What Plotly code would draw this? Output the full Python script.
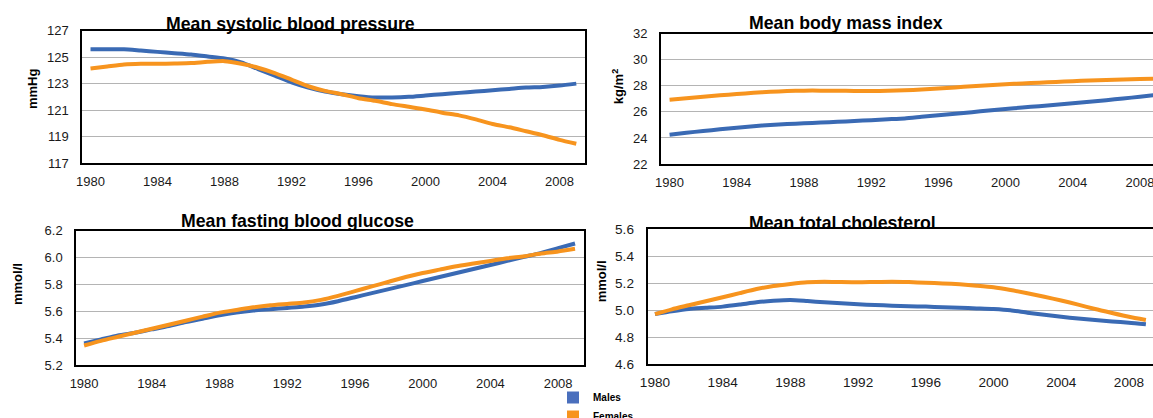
import plotly.graph_objects as go

W, H = 1153, 418

years = list(range(1980, 2010))
tick_years = [1980, 1984, 1988, 1992, 1996, 2000, 2004, 2008]

sbp_males = [125.6, 125.6, 125.6, 125.5, 125.4, 125.3, 125.2, 125.05, 124.9, 124.6,
             124.1, 123.6, 123.1, 122.7, 122.4, 122.2, 122.05, 121.95, 121.95, 122.0,
             122.1, 122.2, 122.3, 122.4, 122.5, 122.6, 122.7, 122.75, 122.85, 123.0]
sbp_females = [124.15, 124.3, 124.45, 124.5, 124.5, 124.52, 124.55, 124.65, 124.7, 124.5,
               124.2, 123.8, 123.3, 122.8, 122.45, 122.2, 121.9, 121.7, 121.45, 121.25,
               121.05, 120.8, 120.6, 120.3, 119.95, 119.7, 119.4, 119.1, 118.75, 118.45]

bmi_males = [24.25, 24.4, 24.53, 24.66, 24.79, 24.9, 25.0, 25.07, 25.12, 25.18,
             25.24, 25.3, 25.36, 25.43, 25.5, 25.62, 25.74, 25.86, 25.98, 26.1,
             26.22, 26.33, 26.44, 26.55, 26.66, 26.78, 26.9, 27.03, 27.16, 27.3]
bmi_females = [26.93, 27.05, 27.16, 27.27, 27.37, 27.46, 27.54, 27.6, 27.63, 27.63,
               27.62, 27.61, 27.6, 27.62, 27.66, 27.72, 27.8, 27.88, 27.97, 28.05,
               28.12, 28.18, 28.24, 28.3, 28.36, 28.41, 28.45, 28.49, 28.52, 28.56]

fpg_males = [5.36, 5.39, 5.42, 5.44, 5.465, 5.49, 5.52, 5.545, 5.57, 5.59,
             5.605, 5.615, 5.625, 5.635, 5.65, 5.675, 5.705, 5.735, 5.765, 5.795,
             5.825, 5.855, 5.885, 5.915, 5.945, 5.975, 6.005, 6.035, 6.07, 6.105]
fpg_females = [5.345, 5.38, 5.41, 5.44, 5.47, 5.5, 5.53, 5.56, 5.59, 5.61,
               5.63, 5.645, 5.655, 5.665, 5.685, 5.715, 5.75, 5.785, 5.82, 5.855,
               5.885, 5.91, 5.935, 5.955, 5.975, 5.995, 6.01, 6.03, 6.045, 6.065]

chol_males = [4.97, 4.99, 5.007, 5.016, 5.025, 5.04, 5.057, 5.068, 5.074, 5.066,
              5.057, 5.05, 5.042, 5.037, 5.032, 5.028, 5.025, 5.021, 5.017, 5.012,
              5.007, 4.998, 4.98, 4.965, 4.95, 4.937, 4.926, 4.915, 4.906, 4.894]
chol_females = [4.97, 5.005, 5.035, 5.065, 5.094, 5.125, 5.155, 5.178, 5.193, 5.205,
                5.21, 5.207, 5.205, 5.208, 5.21, 5.207, 5.202, 5.197, 5.19, 5.18,
                5.168, 5.148, 5.124, 5.098, 5.07, 5.04, 5.007, 4.978, 4.95, 4.926]

titles = ["Mean systolic blood pressure", "Mean body mass index",
          "Mean fasting blood glucose", "Mean total cholesterol"]
units = ["mmHg", "kg/m<sup>2</sup>", "mmol/l", "mmol/l"]
y_ranges = [(117, 127), (22, 32), (5.2, 6.2), (4.6, 5.6)]
y_dticks = [2, 2, 0.2, 0.2]
y_formats = ["d", "d", ".1f", ".1f"]
series = [(sbp_males, sbp_females), (bmi_males, bmi_females),
          (fpg_males, fpg_females), (chol_males, chol_females)]

MALE_C = "#3a6ab4"
FEMALE_C = "#f7941e"
FONT = "Liberation Sans, Arial, sans-serif"

# panel geometry in pixels: (left, right, top, bottom), x range
panels = [
    dict(l=82.3, r=585, t=30.7, b=163, xr=(1979.51, 2009.52), mirror_y=True, tfs=13),
    dict(l=661, r=1153, t=33.7, b=164, xr=(1979.49, 2008.78), mirror_y=False, tfs=13),
    dict(l=76.3, r=584, t=230.7, b=365, xr=(1979.54, 2009.53), mirror_y=True, tfs=13),
    dict(l=647.7, r=1153, t=229, b=364, xr=(1979.57, 2009.42), mirror_y=False, tfs=13.6),
]
title_pos = [(290, 24.4), (846, 22.7), (297.5, 221.1), (842.5, 223.4)]
unit_pos = [(32, 89), (617.5, 86.7), (17, 284), (601.3, 281)]

fig = go.Figure()
layout = dict(width=W, height=H, margin=dict(l=0, r=0, t=0, b=0, autoexpand=False),
              paper_bgcolor="white", plot_bgcolor="white",
              font=dict(family=FONT, color="#1a1a1a"), annotations=[])

def px(x):
    return x / W

def py(y):
    return 1 - y / H

for i, p in enumerate(panels):
    n = "" if i == 0 else str(i + 1)
    males, females = series[i]
    fig.add_trace(go.Scatter(x=years, y=males, mode="lines", name="Males",
                             line=dict(color=MALE_C, width=4, shape="spline", smoothing=0.6),
                             xaxis="x" + n, yaxis="y" + n, showlegend=False, cliponaxis=True))
    fig.add_trace(go.Scatter(x=years, y=females, mode="lines", name="Females",
                             line=dict(color=FEMALE_C, width=4, shape="spline", smoothing=0.6),
                             xaxis="x" + n, yaxis="y" + n, showlegend=False, cliponaxis=True))
    layout["xaxis" + n] = dict(domain=[px(p["l"]), px(p["r"])], range=list(p["xr"]),
                               anchor="y" + n, tickvals=tick_years, ticktext=[str(t) for t in tick_years],
                               showgrid=False, zeroline=False, showline=True, linecolor="black",
                               linewidth=2, mirror=True, ticks="", ticklabelstandoff=5,
                               ticklabeloverflow="allow", automargin=False,
                               tickfont=dict(size=p["tfs"] if i == 3 else 13, family=FONT, color="#1a1a1a"))
    layout["yaxis" + n] = dict(domain=[py(p["b"]), py(p["t"])], range=list(y_ranges[i]),
                               anchor="x" + n, dtick=y_dticks[i], tick0=y_ranges[i][0],
                               tickformat=y_formats[i], showgrid=True, gridcolor="#b4b4b4",
                               gridwidth=1, zeroline=False, showline=True, linecolor="black",
                               linewidth=2, mirror=p["mirror_y"], ticks="", ticklabelstandoff=9,
                               automargin=False,
                               tickfont=dict(size=p["tfs"], family=FONT, color="#1a1a1a"))
    tx, ty = title_pos[i]
    layout["annotations"].append(dict(text="<b>%s</b>" % titles[i], x=px(tx), y=py(ty),
                                      xref="paper", yref="paper", xanchor="center", yanchor="middle",
                                      showarrow=False, font=dict(size=17.7, family=FONT, color="black")))
    ux, uy = unit_pos[i]
    layout["annotations"].append(dict(text="<b>%s</b>" % units[i], x=px(ux), y=py(uy),
                                      xref="paper", yref="paper", xanchor="center", yanchor="middle",
                                      textangle=-90, showarrow=False,
                                      font=dict(size=13, family=FONT, color="black")))

# legend entries
fig.add_trace(go.Scatter(x=[None], y=[None], mode="markers", name="<b>Males</b>",
                         marker=dict(symbol="square", size=12, color="#4a6fbd"),
                         xaxis="x", yaxis="y", showlegend=True))
fig.add_trace(go.Scatter(x=[None], y=[None], mode="markers", name="<b>Females</b>",
                         marker=dict(symbol="square", size=12, color=FEMALE_C),
                         xaxis="x", yaxis="y", showlegend=True))

layout["legend"] = dict(x=px(553), y=py(383), xanchor="left", yanchor="top",
                        bgcolor="rgba(0,0,0,0)", borderwidth=0,
                        font=dict(size=10, family=FONT, color="black"),
                        tracegroupgap=0, itemsizing="constant")
layout["showlegend"] = True

fig.update_layout(**layout)
fig.write_html("out.html", config={"displayModeBar": False},
               post_script="document.body.style.margin='0';document.body.style.overflow='hidden';")
